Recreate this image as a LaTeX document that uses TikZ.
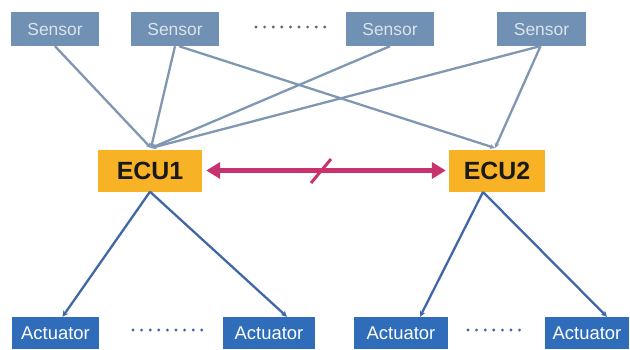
\documentclass[tikz,border=0pt]{standalone}
\usepackage{fontspec}
\setmainfont{Liberation Sans}
\usetikzlibrary{arrows.meta}
\definecolor{sensorfill}{HTML}{7090B4}
\definecolor{sensortext}{HTML}{DCE3EC}
\definecolor{ecufill}{HTML}{F8B225}
\definecolor{actfill}{HTML}{2F6DBA}
\definecolor{sline}{HTML}{8097B2}
\definecolor{aline}{HTML}{3F68A5}
\definecolor{busc}{HTML}{C8326E}
\tikzset{
  sensorbox/.style={fill=sensorfill, text=sensortext, minimum width=88bp, minimum height=34bp, inner sep=0pt, font=\fontsize{17.5}{17.5}\selectfont},
  ecubox/.style={fill=ecufill, text=black!90, minimum height=42bp, inner sep=0pt, font=\fontsize{25}{25}\selectfont\bfseries},
  actbox/.style={fill=actfill, text=white, minimum height=32bp, inner sep=0pt, font=\fontsize{18.5}{18.5}\selectfont},
  sconn/.style={draw=sline, line width=2.3bp, -{Stealth[length=5bp,width=5bp]}},
  aconn/.style={draw=aline, line width=2.3bp, -{Stealth[length=6bp,width=6bp]}},
  bus/.style={draw=busc, line width=4.5bp, {Triangle[length=14bp,width=16bp]}-{Triangle[length=14bp,width=16bp]}},
  dotrow/.style={line width=3.2bp, line cap=round, dash pattern=on 0bp off 8.6bp},
}
\begin{document}
\begin{tikzpicture}[x=1bp,y=-1bp]
\useasboundingbox (0,0) rectangle (630,349);
% sensors
\node[sensorbox] (s1) at (55,29) {Sensor};
\node[sensorbox] (s2) at (175,29) {Sensor};
\node[sensorbox] (s3) at (390,29) {Sensor};
\node[sensorbox, minimum width=89bp] (s4) at (541.5,29) {Sensor};
% ECUs
\node[ecubox, minimum width=104bp] (e1) at (150,170.5) {ECU1};
\node[ecubox, minimum width=96bp] (e2) at (497,170.5) {ECU2};
% actuators
\node[actbox, minimum width=87bp] (a1) at (55.5,333) {Actuator};
\node[actbox, minimum width=92bp] (a2) at (269,333) {Actuator};
\node[actbox, minimum width=94bp] (a3) at (401,333) {Actuator};
\node[actbox, minimum width=84bp] (a4) at (587,333) {Actuator};
% dots
\coordinate (d1a) at (256,27); \coordinate (d1b) at (325,27);
\coordinate (d2a) at (133,330); \coordinate (d2b) at (203,330);
\coordinate (d3a) at (468,330); \coordinate (d3b) at (525,330);
\draw[dotrow, draw=black!60] (d1a) -- (d1b);
\draw[dotrow, draw=aline] (d2a) -- (d2b);
\draw[dotrow, draw=aline] (d3a) -- (d3b);
% sensor connections
\coordinate (e1t) at (151,148);
\coordinate (e2t) at (495,148);
\draw[sconn] (s1.south) -- (e1t);
\draw[sconn] (s2.south) -- (e1t);
\draw[sconn] ([xshift=4bp]s2.south) -- (e2t);
\draw[sconn] (s3.south) -- (e1t);
\draw[sconn] ([xshift=-1.5bp]s4.south) -- (e1t);
\draw[sconn] ([xshift=-1bp]s4.south) -- (e2t);
% actuator connections
\coordinate (e2b) at (483,192);
\draw[aconn] (e1.south) -- ([xshift=7bp]a1.north);
\draw[aconn] (e1.south) -- ([xshift=18bp]a2.north);
\draw[aconn] (e2b) -- ([xshift=19bp]a3.north);
\draw[aconn] (e2b) -- ([xshift=20bp]a4.north);
% bus
\path (e1.east) ++(4bp,0) coordinate (b1) (e2.west) ++(-3bp,0) coordinate (b2);
\draw[bus] (b1) -- (b2);
\coordinate (k1) at (311,183); \coordinate (k2) at (331,159);
\draw[draw=busc, line width=3bp] (k1) -- (k2);
\end{tikzpicture}
\end{document}
